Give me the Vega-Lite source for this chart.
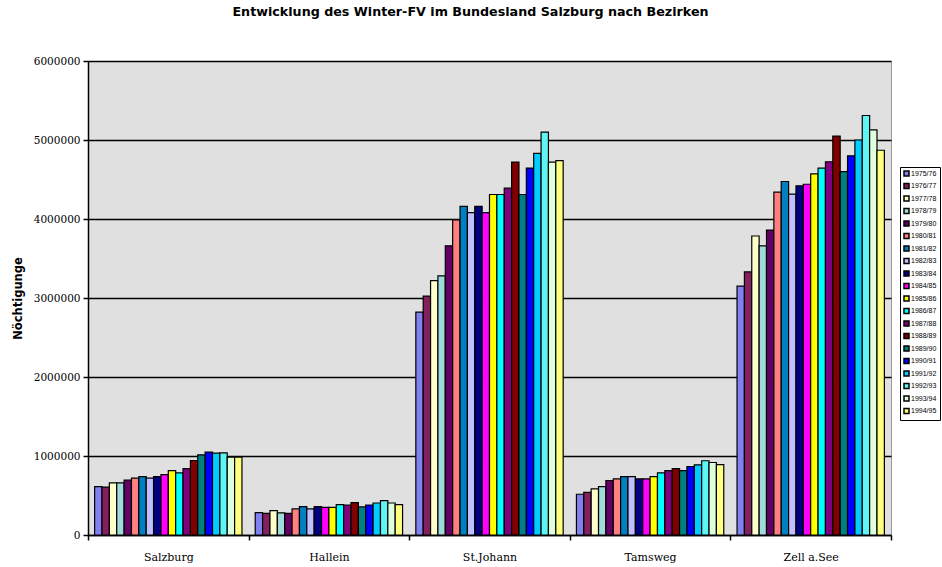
{
  "$schema": "https://vega.github.io/schema/vega-lite/v6.json",
  "width": 803,
  "height": 474,
  "autosize": {"type": "none"},
  "padding": {"left": 88, "top": 61, "right": 51, "bottom": 32},
  "background": "white",
  "title": {
    "text": "Entwicklung des Winter-FV im Bundesland Salzburg nach Bezirken",
    "font": "DejaVu Sans",
    "fontSize": 12.7,
    "fontWeight": "bold",
    "color": "black",
    "anchor": "middle",
    "frame": "group",
    "dx": -19,
    "offset": 37
  },
  "config": {
    "view": {"fill": "#E0E0E0", "stroke": "#9a9a9a", "strokeWidth": 1}
  },
  "data": {
    "values": [
      {"b": "Salzburg", "y": "1975/76", "v": 613000},
      {"b": "Salzburg", "y": "1976/77", "v": 607000},
      {"b": "Salzburg", "y": "1977/78", "v": 660000},
      {"b": "Salzburg", "y": "1978/79", "v": 660000},
      {"b": "Salzburg", "y": "1979/80", "v": 694000},
      {"b": "Salzburg", "y": "1980/81", "v": 720000},
      {"b": "Salzburg", "y": "1981/82", "v": 740000},
      {"b": "Salzburg", "y": "1982/83", "v": 720000},
      {"b": "Salzburg", "y": "1983/84", "v": 740000},
      {"b": "Salzburg", "y": "1984/85", "v": 765000},
      {"b": "Salzburg", "y": "1985/86", "v": 816000},
      {"b": "Salzburg", "y": "1986/87", "v": 787000},
      {"b": "Salzburg", "y": "1987/88", "v": 840000},
      {"b": "Salzburg", "y": "1988/89", "v": 943000},
      {"b": "Salzburg", "y": "1989/90", "v": 1015000},
      {"b": "Salzburg", "y": "1990/91", "v": 1050000},
      {"b": "Salzburg", "y": "1991/92", "v": 1037000},
      {"b": "Salzburg", "y": "1992/93", "v": 1040000},
      {"b": "Salzburg", "y": "1993/94", "v": 986000},
      {"b": "Salzburg", "y": "1994/95", "v": 986000},
      {"b": "Hallein", "y": "1975/76", "v": 283000},
      {"b": "Hallein", "y": "1976/77", "v": 275000},
      {"b": "Hallein", "y": "1977/78", "v": 308000},
      {"b": "Hallein", "y": "1978/79", "v": 280000},
      {"b": "Hallein", "y": "1979/80", "v": 275000},
      {"b": "Hallein", "y": "1980/81", "v": 330000},
      {"b": "Hallein", "y": "1981/82", "v": 360000},
      {"b": "Hallein", "y": "1982/83", "v": 330000},
      {"b": "Hallein", "y": "1983/84", "v": 360000},
      {"b": "Hallein", "y": "1984/85", "v": 350000},
      {"b": "Hallein", "y": "1985/86", "v": 350000},
      {"b": "Hallein", "y": "1986/87", "v": 385000},
      {"b": "Hallein", "y": "1987/88", "v": 380000},
      {"b": "Hallein", "y": "1988/89", "v": 410000},
      {"b": "Hallein", "y": "1989/90", "v": 355000},
      {"b": "Hallein", "y": "1990/91", "v": 380000},
      {"b": "Hallein", "y": "1991/92", "v": 405000},
      {"b": "Hallein", "y": "1992/93", "v": 435000},
      {"b": "Hallein", "y": "1993/94", "v": 405000},
      {"b": "Hallein", "y": "1994/95", "v": 385000},
      {"b": "St.Johann", "y": "1975/76", "v": 2820000},
      {"b": "St.Johann", "y": "1976/77", "v": 3024000},
      {"b": "St.Johann", "y": "1977/78", "v": 3220000},
      {"b": "St.Johann", "y": "1978/79", "v": 3280000},
      {"b": "St.Johann", "y": "1979/80", "v": 3660000},
      {"b": "St.Johann", "y": "1980/81", "v": 3990000},
      {"b": "St.Johann", "y": "1981/82", "v": 4160000},
      {"b": "St.Johann", "y": "1982/83", "v": 4080000},
      {"b": "St.Johann", "y": "1983/84", "v": 4160000},
      {"b": "St.Johann", "y": "1984/85", "v": 4080000},
      {"b": "St.Johann", "y": "1985/86", "v": 4310000},
      {"b": "St.Johann", "y": "1986/87", "v": 4310000},
      {"b": "St.Johann", "y": "1987/88", "v": 4390000},
      {"b": "St.Johann", "y": "1988/89", "v": 4720000},
      {"b": "St.Johann", "y": "1989/90", "v": 4310000},
      {"b": "St.Johann", "y": "1990/91", "v": 4645000},
      {"b": "St.Johann", "y": "1991/92", "v": 4830000},
      {"b": "St.Johann", "y": "1992/93", "v": 5100000},
      {"b": "St.Johann", "y": "1993/94", "v": 4720000},
      {"b": "St.Johann", "y": "1994/95", "v": 4740000},
      {"b": "Tamsweg", "y": "1975/76", "v": 516000},
      {"b": "Tamsweg", "y": "1976/77", "v": 540000},
      {"b": "Tamsweg", "y": "1977/78", "v": 584000},
      {"b": "Tamsweg", "y": "1978/79", "v": 613000},
      {"b": "Tamsweg", "y": "1979/80", "v": 690000},
      {"b": "Tamsweg", "y": "1980/81", "v": 710000},
      {"b": "Tamsweg", "y": "1981/82", "v": 740000},
      {"b": "Tamsweg", "y": "1982/83", "v": 740000},
      {"b": "Tamsweg", "y": "1983/84", "v": 710000},
      {"b": "Tamsweg", "y": "1984/85", "v": 710000},
      {"b": "Tamsweg", "y": "1985/86", "v": 740000},
      {"b": "Tamsweg", "y": "1986/87", "v": 787000},
      {"b": "Tamsweg", "y": "1987/88", "v": 816000},
      {"b": "Tamsweg", "y": "1988/89", "v": 840000},
      {"b": "Tamsweg", "y": "1989/90", "v": 815000},
      {"b": "Tamsweg", "y": "1990/91", "v": 867000},
      {"b": "Tamsweg", "y": "1991/92", "v": 888000},
      {"b": "Tamsweg", "y": "1992/93", "v": 940000},
      {"b": "Tamsweg", "y": "1993/94", "v": 918000},
      {"b": "Tamsweg", "y": "1994/95", "v": 890000},
      {"b": "Zell a.See", "y": "1975/76", "v": 3150000},
      {"b": "Zell a.See", "y": "1976/77", "v": 3330000},
      {"b": "Zell a.See", "y": "1977/78", "v": 3785000},
      {"b": "Zell a.See", "y": "1978/79", "v": 3660000},
      {"b": "Zell a.See", "y": "1979/80", "v": 3860000},
      {"b": "Zell a.See", "y": "1980/81", "v": 4340000},
      {"b": "Zell a.See", "y": "1981/82", "v": 4475000},
      {"b": "Zell a.See", "y": "1982/83", "v": 4315000},
      {"b": "Zell a.See", "y": "1983/84", "v": 4420000},
      {"b": "Zell a.See", "y": "1984/85", "v": 4440000},
      {"b": "Zell a.See", "y": "1985/86", "v": 4570000},
      {"b": "Zell a.See", "y": "1986/87", "v": 4645000},
      {"b": "Zell a.See", "y": "1987/88", "v": 4725000},
      {"b": "Zell a.See", "y": "1988/89", "v": 5050000},
      {"b": "Zell a.See", "y": "1989/90", "v": 4600000},
      {"b": "Zell a.See", "y": "1990/91", "v": 4800000},
      {"b": "Zell a.See", "y": "1991/92", "v": 5000000},
      {"b": "Zell a.See", "y": "1992/93", "v": 5310000},
      {"b": "Zell a.See", "y": "1993/94", "v": 5127000},
      {"b": "Zell a.See", "y": "1994/95", "v": 4870000}
    ]
  },
  "mark": {"type": "bar", "stroke": "black", "strokeWidth": 1.2},
  "encoding": {
    "x": {
      "field": "b",
      "type": "nominal",
      "sort": ["Salzburg", "Hallein", "St.Johann", "Tamsweg", "Zell a.See"],
      "scale": {"paddingInner": 0, "paddingOuter": 0},
      "axis": {
        "title": null,
        "labelAngle": 0,
        "labelFont": "DejaVu Serif",
        "labelFontSize": 11,
        "labelColor": "black",
        "labelPadding": 11,
        "domainColor": "black",
        "domainWidth": 1.5,
        "tickColor": "black",
        "tickBand": "extent",
        "tickSize": 5,
        "tickWidth": 1.5
      }
    },
    "xOffset": {
      "field": "y",
      "type": "nominal",
      "scale": {"paddingInner": 0, "paddingOuter": 0.9}
    },
    "y": {
      "field": "v",
      "type": "quantitative",
      "scale": {"domain": [0, 6000000]},
      "axis": {
        "values": [0, 1000000, 2000000, 3000000, 4000000, 5000000, 6000000],
        "format": "d",
        "title": "Nöchtigunge",
        "titleFont": "DejaVu Sans",
        "titleFontSize": 11.5,
        "titleFontWeight": "bold",
        "titleColor": "black",
        "titlePadding": 10,
        "labelFont": "DejaVu Serif",
        "labelFontSize": 10.5,
        "labelColor": "black",
        "labelPadding": 3,
        "domainColor": "black",
        "domainWidth": 1.5,
        "tickColor": "black",
        "tickSize": 5,
        "tickWidth": 1.5,
        "grid": true,
        "gridColor": "black",
        "gridWidth": 1.5
      }
    },
    "fill": {
      "field": "y",
      "type": "nominal",
      "scale": {
        "domain": ["1975/76", "1976/77", "1977/78", "1978/79", "1979/80", "1980/81", "1981/82", "1982/83", "1983/84", "1984/85", "1985/86", "1986/87", "1987/88", "1988/89", "1989/90", "1990/91", "1991/92", "1992/93", "1993/94", "1994/95"],
        "range": ["#8080F0", "#84205F", "#FFFFCC", "#A0DADA", "#640064", "#FF8080", "#0080C0", "#C0C0FF", "#000080", "#FF00FF", "#FFFF00", "#00FFFF", "#800080", "#800000", "#008080", "#0000FF", "#00CCFF", "#60F5F5", "#DDFFDD", "#FFFF80"]
      },
      "legend": {
        "title": null,
        "orient": "none",
        "legendX": 812,
        "legendY": 106,
        "strokeColor": "black",
        "fillColor": "white",
        "padding": 3,
        "symbolType": "square",
        "symbolSize": 25,
        "symbolStrokeColor": "black",
        "symbolStrokeWidth": 1.5,
        "labelFont": "Liberation Sans",
        "labelFontSize": 7,
        "labelColor": "black",
        "labelOffset": 1,
        "rowPadding": 1.5
      }
    }
  }
}
